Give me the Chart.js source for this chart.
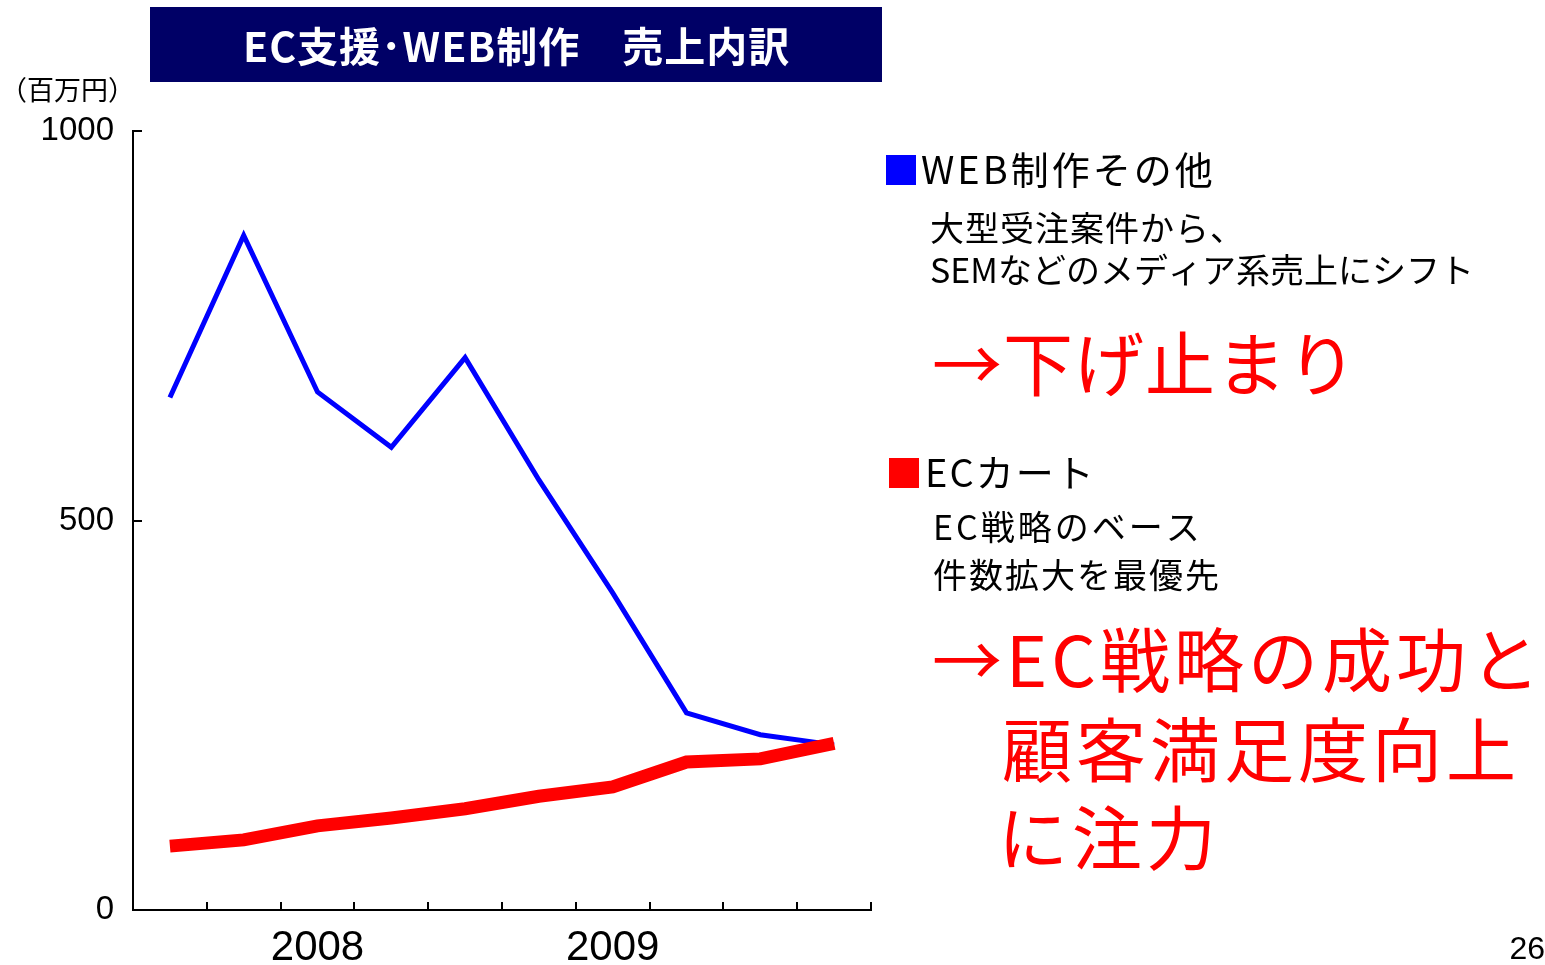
<!DOCTYPE html>
<html>
<head>
<meta charset="utf-8">
<script src="https://cdn.jsdelivr.net/npm/chart.js@4"></script>
<style>
  html, body { margin: 0; padding: 0; background: #fff; }
  canvas { display: block; }
</style>
</head>
<body>
<canvas id="myChart" width="1545" height="965"></canvas>
<script>
// quarters from 2007 Q3 to 2009 Q4, only the year labels shown
const quarterLabels = ['', '', '2008', '', '', '', '2009', '', '', ''];
const webSales = [658, 866, 665, 594, 709, 552, 407, 253, 225, 212];
const ecCartSales = [82, 90, 108, 118, 130, 146, 158, 190, 194, 214];
const yTicks = [0, 500, 1000];

const JP = '"Noto Sans CJK JP", "Noto Sans", sans-serif';
const NUM = '"Liberation Sans", Arial, sans-serif';

// inward tick marks, like the original slide
const innerTicks = {
    id: 'innerTicks',
    afterDraw(chart) {
        const ctx = chart.ctx;
        const x = chart.scales.x;
        const y = chart.scales.y;
        ctx.save();
        ctx.strokeStyle = '#000';
        ctx.lineWidth = 2;
        ctx.beginPath();
        for (let i = 0; i <= quarterLabels.length; i++) {
            const px = Math.round(x.getPixelForValue(i - 0.5));
            ctx.moveTo(px, y.bottom);
            ctx.lineTo(px, y.bottom - 8);
        }
        yTicks.forEach(v => {
            const py = Math.round(y.getPixelForValue(v));
            ctx.moveTo(x.left, py);
            ctx.lineTo(x.left + 9, py);
        });
        ctx.stroke();
        ctx.restore();
    }
};

function put(ctx, text, x, y, spacing) {
    ctx.letterSpacing = (spacing || 0) + 'px';
    ctx.fillText(text, x, y);
    ctx.letterSpacing = '0px';
}

// slide texts: title banner, unit, legend notes, page number
const slideText = {
    id: 'slideText',
    afterDraw(chart) {
        const ctx = chart.ctx;
        ctx.save();
        ctx.fillStyle = '#000066';
        ctx.fillRect(150, 7, 732, 75);
        ctx.fillStyle = '#fff';
        ctx.textAlign = 'left';
        ctx.textBaseline = 'middle';
        ctx.font = 'bold 41px ' + JP;
        put(ctx, 'EC支援･WEB制作　売上内訳', 243, 46, 1);

        ctx.fillStyle = '#000';
        ctx.font = '27px ' + JP;
        put(ctx, '（百万円）', 0, 90, 0);

        // legend blocks
        ctx.fillStyle = '#0000ff';
        ctx.fillRect(886, 155, 30, 30);
        ctx.fillStyle = '#ff0000';
        ctx.fillRect(889, 458, 30, 30);

        ctx.fillStyle = '#000';
        ctx.font = '38px ' + JP;
        put(ctx, 'WEB制作その他', 921, 170, 3);
        put(ctx, 'ECカート', 925, 473, 2);

        ctx.font = '34px ' + JP;
        put(ctx, '大型受注案件から、', 930, 228, 1);
        put(ctx, 'SEMなどのメディア系売上にシフト', 930, 270, 0);
        put(ctx, 'EC戦略のベース', 933, 527, 3);
        put(ctx, '件数拡大を最優先', 933, 575, 2);

        ctx.fillStyle = '#ff0000';
        ctx.font = '70px ' + JP;
        put(ctx, '→下げ止まり', 932, 364, 1);
        put(ctx, '→EC戦略の成功と', 932, 660, 4);
        put(ctx, '顧客満足度向上', 1002, 750, 4);
        put(ctx, 'に注力', 998, 838, 4);

        ctx.fillStyle = '#000';
        ctx.textAlign = 'right';
        ctx.font = '32px ' + NUM;
        ctx.fillText('26', 1545, 950);
        ctx.restore();
    }
};

const data = {
    labels: quarterLabels,
    datasets: [
        {
            label: 'WEB制作その他',
            data: webSales,
            borderColor: '#0000ff',
            borderWidth: 5,
            borderCapStyle: 'butt',
            pointRadius: 0,
            tension: 0,
            order: 1,
        },
        {
            label: 'ECカート',
            data: ecCartSales,
            borderColor: '#ff0000',
            borderWidth: 13,
            borderCapStyle: 'butt',
            pointRadius: 0,
            tension: 0,
            order: 0,
        },
    ],
};

const options = {
    responsive: false,
    animation: false,
    devicePixelRatio: 1,
    layout: {
        padding: { top: 131, right: 674, left: 0, bottom: 0 },
    },
    plugins: {
        legend: { display: false },
        tooltip: { enabled: false },
    },
    scales: {
        x: {
            offset: true,
            grid: { display: false },
            border: { display: true, color: '#000', width: 2 },
            ticks: {
                autoSkip: false,
                maxRotation: 0,
                padding: 5,
                color: '#000',
                font: { family: NUM, size: 42 },
            },
            afterFit(scale) { scale.height = 55; },
        },
        y: {
            min: 0,
            max: 1000,
            afterBuildTicks(scale) { scale.ticks = yTicks.map(v => ({ value: v })); },
            grid: { display: false },
            border: { display: true, color: '#000', width: 2 },
            ticks: {
                padding: 11,
                color: '#000',
                font: { family: NUM, size: 33 },
                callback: value => String(value),
            },
            afterFit(scale) { scale.width = 133; },
        },
    },
};

const ctx = document.getElementById('myChart').getContext('2d');
new Chart(ctx, {
    type: 'line',
    data: data,
    options: options,
    plugins: [innerTicks, slideText],
});
</script>
</body>
</html>
